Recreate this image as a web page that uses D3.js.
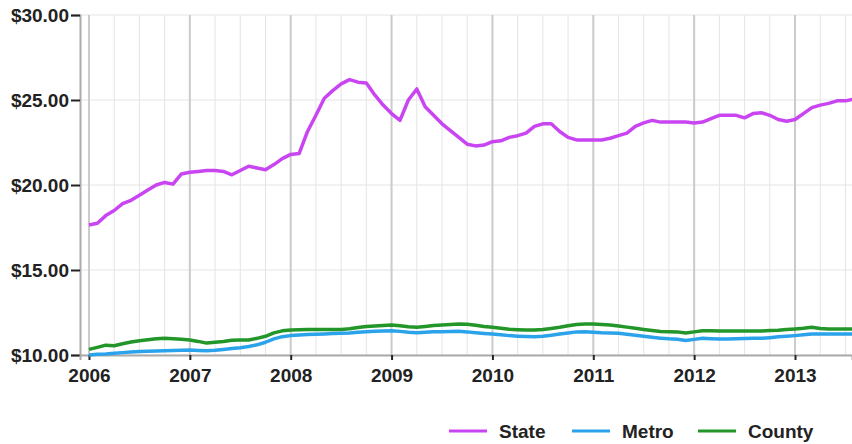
<!DOCTYPE html>
<html lang="en">
<head>
  <meta charset="UTF-8">
  <title>State / Metro / County</title>
  <style>
    body { margin: 0; background: #fff; }
    svg { display: block; font-family: "Liberation Sans", Arial, sans-serif; }
  </style>
  <script src="https://d3js.org/d3.v7.min.js"></script>
</head>
<body>
  <svg width="852" height="444"></svg>

  <script>
    // monthly values, Jan 2006 .. Aug 2013
    var startYear = 2006;
    var seriesNames = ["State", "Metro", "County"];
    var seriesColors = ["#c945f2", "#2ba3ea", "#23962a"];

    var state = [
      17.65, 17.75, 18.2, 18.5, 18.9, 19.1, 19.4, 19.7, 20.0, 20.15, 20.05, 20.65,
      20.75, 20.8, 20.85, 20.85, 20.8, 20.6, 20.85, 21.1, 21.0, 20.9, 21.2, 21.55,
      21.8, 21.85, 23.15, 24.1, 25.1, 25.55, 25.95, 26.2, 26.05, 26.0, 25.3, 24.7,
      24.2, 23.8, 25.0, 25.65, 24.6, 24.1, 23.6, 23.2, 22.8, 22.4, 22.3, 22.35,
      22.55, 22.6, 22.8, 22.9, 23.05, 23.45, 23.6, 23.6, 23.15, 22.8, 22.65, 22.65,
      22.65, 22.65, 22.75, 22.9, 23.05, 23.45, 23.65, 23.8, 23.7, 23.7, 23.7, 23.7,
      23.65, 23.7, 23.9, 24.1, 24.1, 24.1, 23.95, 24.2, 24.25, 24.1, 23.85, 23.75,
      23.85, 24.2, 24.55, 24.7, 24.8, 24.95, 24.95, 25.05
    ];
    var metro = [
      10.0, 10.04, 10.06, 10.1, 10.14, 10.17, 10.2, 10.22, 10.24, 10.25, 10.26, 10.28,
      10.29, 10.27, 10.25, 10.28, 10.33, 10.38, 10.43, 10.5, 10.6, 10.75, 10.95, 11.08,
      11.14, 11.17, 11.2, 11.22, 11.24, 11.26, 11.28, 11.3, 11.34, 11.37, 11.39, 11.41,
      11.43, 11.39, 11.34, 11.31, 11.34, 11.37, 11.37, 11.38, 11.39, 11.36, 11.31, 11.27,
      11.24, 11.19, 11.14, 11.11, 11.09, 11.08, 11.1, 11.16, 11.24, 11.3, 11.36, 11.37,
      11.34, 11.31, 11.3, 11.28, 11.22, 11.16, 11.1, 11.04, 10.99, 10.95, 10.93, 10.85,
      10.92, 10.98, 10.96, 10.94, 10.94, 10.95, 10.97, 10.98, 10.98, 11.02, 11.07, 11.1,
      11.14, 11.19, 11.24, 11.24, 11.24, 11.24, 11.24, 11.24
    ];
    var county = [
      10.33, 10.45, 10.58, 10.54, 10.66, 10.76, 10.84, 10.9, 10.95, 10.98, 10.96, 10.92,
      10.88, 10.8, 10.7, 10.75, 10.8, 10.87, 10.88, 10.88, 10.98, 11.1, 11.3, 11.42,
      11.47, 11.49, 11.5, 11.5, 11.5, 11.5, 11.5, 11.55, 11.62, 11.67, 11.7, 11.74,
      11.76, 11.72, 11.66, 11.63, 11.68, 11.74, 11.76, 11.79, 11.82, 11.81, 11.75, 11.68,
      11.63, 11.57, 11.52, 11.49, 11.47, 11.47, 11.5, 11.56, 11.63, 11.72, 11.8, 11.82,
      11.82, 11.8, 11.76, 11.71, 11.64, 11.57, 11.5, 11.44, 11.38, 11.37, 11.36, 11.29,
      11.36, 11.43, 11.42, 11.41, 11.41, 11.41, 11.41, 11.41, 11.41, 11.44, 11.46, 11.5,
      11.53, 11.57, 11.63, 11.56, 11.53, 11.53, 11.53, 11.53
    ];
    var yearTicks = [2006, 2007, 2008, 2009, 2010, 2011, 2012, 2013];
    var valueTicks = [10, 15, 20, 25, 30];

    var svg = d3.select("svg");
    var plotLeft = 80, plotRight = 852, plotTop = 15, plotBottom = 355;

    var x = d3.scaleLinear().domain([2005.911, 2013.565]).range([plotLeft, plotRight]);
    var y = d3.scaleLinear().domain([10, 30]).range([plotBottom, plotTop]);

    svg.append("clipPath").attr("id", "plot")
      .append("rect").attr("x", plotLeft).attr("y", 0)
      .attr("width", plotRight - plotLeft).attr("height", plotBottom + 2);

    // grid: quarter lines light, year lines darker
    var quarters = d3.range(2006, 2013.6, 0.25).filter(d => d % 1 !== 0);
    svg.append("g").selectAll("line").data(quarters).join("line")
      .attr("x1", d => x(d)).attr("x2", d => x(d))
      .attr("y1", plotTop).attr("y2", plotBottom)
      .attr("stroke", "#e4e4e4").attr("stroke-width", 1);
    svg.append("g").selectAll("line").data(valueTicks).join("line")
      .attr("x1", plotLeft).attr("x2", plotRight)
      .attr("y1", d => y(d)).attr("y2", d => y(d))
      .attr("stroke", "#e4e4e4").attr("stroke-width", 1);
    svg.append("g").selectAll("line").data(yearTicks).join("line")
      .attr("x1", d => x(d)).attr("x2", d => x(d))
      .attr("y1", plotTop).attr("y2", plotBottom)
      .attr("stroke", "#cbcbcb").attr("stroke-width", 2);

    // axes
    var yAxis = svg.append("g").attr("transform", "translate(" + plotLeft + ",0)")
      .call(d3.axisLeft(y).tickValues(valueTicks).tickSize(9).tickPadding(2)
        .tickFormat(d => "$" + d3.format(".2f")(d)));
    var xAxis = svg.append("g").attr("transform", "translate(0," + plotBottom + ")")
      .call(d3.axisBottom(x).tickValues(yearTicks).tickSize(5).tickPadding(9)
        .tickFormat(d3.format("d")));
    yAxis.select(".domain").attr("stroke", "#aaa").attr("stroke-width", 2);
    xAxis.select(".domain").attr("stroke", "#aaa").attr("stroke-width", 2);
    yAxis.selectAll(".tick line").attr("stroke", "#222").attr("stroke-width", 2);
    xAxis.selectAll(".tick line").attr("stroke", "#222").attr("stroke-width", 2);
    svg.selectAll(".tick text").attr("fill", "#222")
      .style("font-size", "19px").style("font-weight", "bold")
      .style("font-family", "'Liberation Sans', Arial, sans-serif");

    // lines
    var allSeries = [state, metro, county];
    var line = d3.line()
      .x((d, i) => x(startYear + i / 12))
      .y(d => y(d));
    var g = svg.append("g").attr("clip-path", "url(#plot)");
    [county, metro, state].forEach(function (s) {
      var k = allSeries.indexOf(s);
      g.append("path").datum(s)
        .attr("fill", "none")
        .attr("stroke", seriesColors[k])
        .attr("stroke-width", 3.5)
        .attr("stroke-linejoin", "round")
        .attr("d", line);
    });

    // legend
    var legendX = [449, 572, 698];
    var legend = svg.append("g").selectAll("g").data(seriesNames).join("g")
      .attr("transform", (d, i) => "translate(" + legendX[i] + ",431)");
    legend.append("line").attr("x1", 0).attr("x2", 38)
      .attr("stroke", (d, i) => seriesColors[i]).attr("stroke-width", 3);
    legend.append("text").attr("x", 50).attr("y", 7)
      .attr("fill", "#222").style("font-size", "19px").style("font-weight", "bold")
      .text(d => d);
  </script>
</body>
</html>
